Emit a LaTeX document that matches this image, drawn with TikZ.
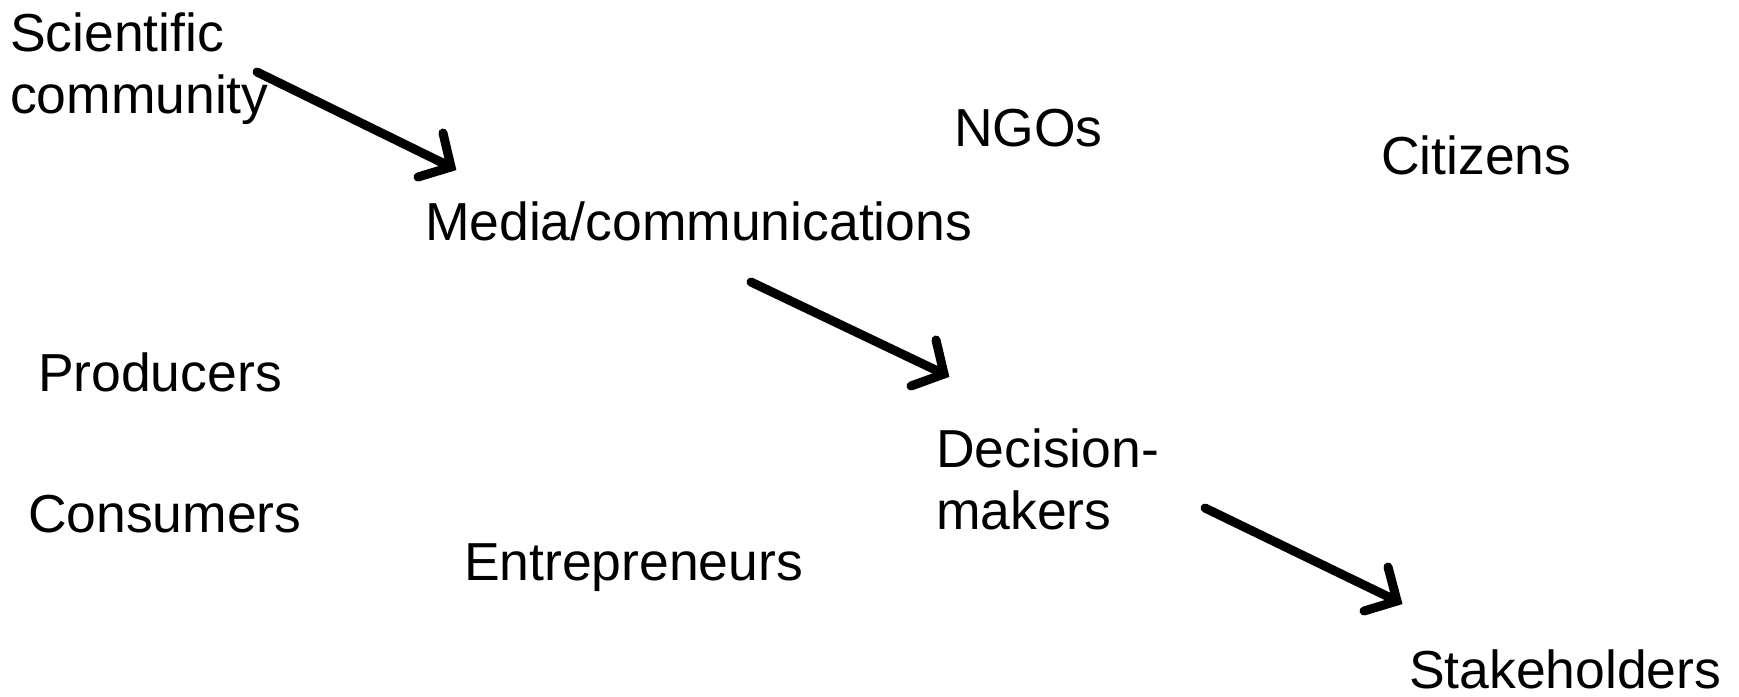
\documentclass[tikz,border=0pt]{standalone}
\usepackage{fontspec}
\setmainfont{Liberation Sans}
\begin{document}
\begin{tikzpicture}[x=1pt,y=-1pt,
  lbl/.style={anchor=base west,inner sep=0pt,outer sep=0pt,align=left,
    font=\fontsize{53.5}{62}\selectfont},
  shaft/.style={line width=9pt,line cap=round},
  barb/.style={line width=9pt,line cap=round,line join=miter,miter limit=10}]
\useasboundingbox (0,0) rectangle (1739,696);
\node[lbl] (sci) at (10,113) {Scientific\\community};
\node[lbl] (ngo) at (954,146) {NGOs};
\node[lbl] (cit) at (1381,174) {Citizens};
\node[lbl] (med) at (425,240) {Media/communications};
\node[lbl] (pro) at (38,391) {Producers};
\node[lbl] (dec) at (936,529) {Decision-\\makers};
\node[lbl] (con) at (28,532) {Consumers};
\node[lbl] (ent) at (464,580) {Entrepreneurs};
\node[lbl] (sta) at (1409,688) {Stakeholders};
% arrow 1
\coordinate (s1) at (257,72);
\coordinate (t1) at (451,167);
\coordinate (t1a) at (443,133);
\coordinate (t1b) at (418,177);
% arrow 2
\coordinate (s2) at (751,282);
\coordinate (t2) at (944,374);
\coordinate (t2a) at (936,340);
\coordinate (t2b) at (911,386);
% arrow 3
\coordinate (s3) at (1205,508);
\coordinate (t3) at (1397,601);
\coordinate (t3a) at (1388,567);
\coordinate (t3b) at (1364,611);
\foreach \i in {1,2,3}{
  \draw[shaft] (s\i) -- (t\i);
  \draw[barb] (t\i a) -- (t\i) -- (t\i b);
}
\end{tikzpicture}
\end{document}
